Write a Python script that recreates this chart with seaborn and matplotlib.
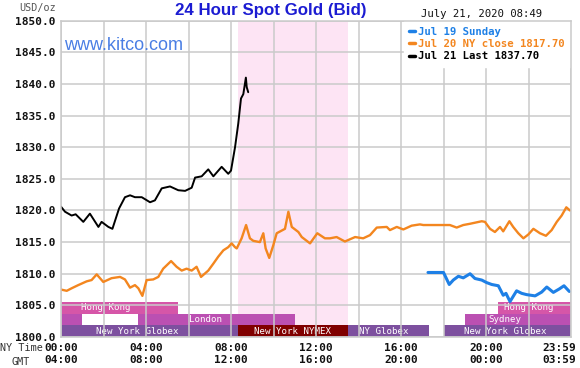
import matplotlib
matplotlib.use("Agg")
import matplotlib.pyplot as plt
import matplotlib.transforms as mtransforms
from matplotlib.lines import Line2D
import seaborn as sns

# hours (NY time) and prices
jul21_hours = [0.0, 0.19, 0.5, 0.69, 1.05, 1.36, 1.76, 1.91, 2.23, 2.42, 2.73, 3.01,
               3.25, 3.48, 3.8, 4.19, 4.42, 4.74, 5.13, 5.52, 5.84, 6.15, 6.31, 6.62,
               6.93, 7.17, 7.56, 7.87, 8.0, 8.19, 8.34, 8.47, 8.58, 8.7, 8.74, 8.81]
jul21_price = [1820.6, 1819.8, 1819.2, 1819.4, 1818.2, 1819.5, 1817.4, 1818.2, 1817.4,
               1817.1, 1820.3, 1822.1, 1822.4, 1822.1, 1822.1, 1821.3, 1821.6, 1823.5,
               1823.8, 1823.2, 1823.1, 1823.6, 1825.2, 1825.4, 1826.5, 1825.4, 1826.9,
               1825.8, 1826.3, 1830.0, 1833.7, 1837.7, 1838.4, 1841.0, 1839.5, 1838.7]

jul20_hours = [0.0, 0.27, 0.5, 0.81, 1.21, 1.44, 1.68, 1.99, 2.38, 2.78, 3.01, 3.25,
               3.48, 3.64, 3.83, 4.03, 4.34, 4.58, 4.81, 5.18, 5.44, 5.68, 5.91, 6.15,
               6.38, 6.59, 6.93, 7.17, 7.4, 7.64, 7.87, 8.03, 8.19, 8.27, 8.5, 8.71,
               8.89, 9.05, 9.36, 9.52, 9.63, 9.8, 9.99, 10.15, 10.54, 10.7, 10.86, 11.17,
               11.33, 11.72, 12.06, 12.42, 12.66, 12.97, 13.36, 13.84, 14.22, 14.54,
               14.86, 15.33, 15.48, 15.8, 16.11, 16.5, 16.89, 17.05, 18.0, 18.3, 18.62,
               18.93, 19.25, 19.8, 19.95, 20.19, 20.42, 20.66, 20.81, 21.1, 21.28, 21.52,
               21.76, 21.99, 22.23, 22.54, 22.82, 23.09, 23.33, 23.56, 23.78, 23.95]
jul20_price = [1807.5, 1807.3, 1807.7, 1808.2, 1808.8, 1809.0, 1809.9, 1808.7, 1809.3,
               1809.5, 1809.1, 1807.8, 1808.2, 1807.7, 1806.5, 1809.0, 1809.1, 1809.5,
               1810.8, 1812.0, 1811.1, 1810.5, 1810.8, 1810.5, 1811.1, 1809.5, 1810.5,
               1811.6, 1812.7, 1813.7, 1814.2, 1814.8, 1814.2, 1814.0, 1815.6, 1817.7,
               1815.6, 1815.2, 1815.0, 1816.4, 1814.0, 1812.5, 1814.5, 1816.4, 1817.1,
               1819.8, 1817.4, 1816.6, 1815.8, 1814.8, 1816.4, 1815.6, 1815.6, 1815.8,
               1815.1, 1815.8, 1815.6, 1816.1, 1817.3, 1817.4, 1816.9, 1817.4, 1817.0,
               1817.6, 1817.8, 1817.7, 1817.7, 1817.7, 1817.3, 1817.7, 1817.9, 1818.3,
               1818.2, 1817.1, 1816.6, 1817.4, 1816.7, 1818.3, 1817.4, 1816.4, 1815.6,
               1816.2, 1817.1, 1816.4, 1816.0, 1816.9, 1818.2, 1819.2, 1820.5, 1820.0]

jul19_hours = [17.27, 18.0, 18.27, 18.46, 18.7, 18.93, 19.25, 19.48, 19.8, 20.03, 20.27,
               20.58, 20.81, 20.94, 21.13, 21.44, 21.68, 21.91, 22.31, 22.62, 22.86,
               23.17, 23.45, 23.67, 23.92]
jul19_price = [1810.2, 1810.2, 1808.3, 1809.0, 1809.6, 1809.35, 1810.0, 1809.25, 1809.0,
               1808.6, 1808.3, 1808.1, 1806.6, 1806.9, 1805.6, 1807.3, 1806.9, 1806.7,
               1806.5, 1807.1, 1807.9, 1807.05, 1807.6, 1808.1, 1807.2]

# trading sessions at the bottom of the chart (row 0 = bottom)
session_names = ["New York Globex", "New York NYMEX", "NY Globex", "New York Globex",
                 "", "London", "Sydney", "", "Hong Kong", "Hong Kong"]
session_start = [0.0, 8.33, 13.5, 18.0, 0.0, 3.6, 19.0, 1.0, 0.0, 20.55]
session_end = [8.33, 13.5, 17.33, 24.0, 1.0, 11.0, 24.0, 3.6, 5.5, 24.0]
session_row = [0, 0, 0, 0, 1, 1, 1, 1, 2, 2]
session_label_x = [3.6, 10.9, 15.2, 20.9, 0.5, 6.8, 20.9, 2.3, 2.1, 22.0]
session_colors = ["#7d509f", "#800000", "#7d509f", "#7d509f", "#bb50b2", "#bb50b2",
                  "#bb50b2", "#ffffff", "#d656a8", "#d656a8"]

comex_open, comex_close = 8.33, 13.5

tick_hours = [0, 2, 4, 6, 8, 10, 12, 14, 16, 18, 20, 22, 24]
tick_labels = ["00:00\n04:00", "", "04:00\n08:00", "", "08:00\n12:00", "",
               "12:00\n16:00", "", "16:00\n20:00", "", "20:00\n00:00", "",
               "23:59\n03:59"]

sns.set_style("whitegrid", {"grid.color": "#cacaca", "axes.edgecolor": "#cacaca"})
plt.rcParams["font.family"] = ["DejaVu Sans Mono", "DejaVu Sans"]

fig = plt.figure(figsize=(5.8, 3.68), dpi=100)
ax = fig.add_axes([61 / 580, 1 - 337 / 368, 510 / 580, 316.3 / 368])

ax.axvspan(comex_open, comex_close, color="#fde4f4", zorder=0.1, lw=0)

row_h = 1.85
for name, s, e, r, lx, c in zip(session_names, session_start, session_end,
                                 session_row, session_label_x, session_colors):
    ax.barh(1800 + row_h * (r + 0.5), e - s, left=s, height=row_h, color=c,
            zorder=0.3, linewidth=0)
    if name:
        ax.text(lx, 1800 + row_h * (r + 0.5), name, color="white", fontsize=6.6,
                ha="center", va="center", zorder=0.4)

sns.lineplot(x=jul19_hours, y=jul19_price, color="#1e80e6", linewidth=2.2,
             estimator=None, ax=ax, zorder=3)
sns.lineplot(x=jul20_hours, y=jul20_price, color="#f3861f", linewidth=1.7,
             estimator=None, ax=ax, zorder=3)
sns.lineplot(x=jul21_hours, y=jul21_price, color="black", linewidth=1.4,
             estimator=None, ax=ax, zorder=4)

ax.set_xlim(0, 24)
ax.set_ylim(1800, 1850)
ax.set_xticks(tick_hours)
ax.set_xticklabels(tick_labels)
ax.set_yticks(range(1800, 1851, 5))
ax.set_yticklabels([f"{v:.1f}" for v in range(1800, 1851, 5)])
ax.grid(True, color="#cacaca", linewidth=1.1)
ax.set_axisbelow(True)
ax.tick_params(length=0, labelsize=8, pad=4)
for lab in ax.get_xticklabels() + ax.get_yticklabels():
    lab.set_fontweight("bold")
    lab.set_color("#111111")
for lab in ax.get_xticklabels():
    lab.set_linespacing(1.3)
last = ax.get_xticklabels()[-1]
last.set_transform(last.get_transform() +
                   mtransforms.ScaledTranslation(-0.12, 0, fig.dpi_scale_trans))
for sp in ax.spines.values():
    sp.set_color("#cacaca")
    sp.set_linewidth(1.1)
    sp.set_zorder(6)
ax.set_xlabel("")
ax.set_ylabel("")

handles = [Line2D([], [], color="#1e80e6", lw=2.5),
           Line2D([], [], color="#f3861f", lw=2.5),
           Line2D([], [], color="black", lw=2.5)]
labels = ["Jul 19 Sunday", "Jul 20 NY close 1817.70", "Jul 21 Last 1837.70"]
leg = ax.legend(handles, labels, loc="upper right", bbox_to_anchor=(1, 1),
                borderaxespad=0, frameon=True, fancybox=False, framealpha=1,
                facecolor="white", edgecolor="white", handlelength=0.55,
                handletextpad=0.3, labelspacing=0.22, borderpad=0.55,
                prop={"family": "DejaVu Sans Mono", "weight": "bold", "size": 7.7},
                labelcolor=["#1e80e6", "#f3861f", "black"])
leg.set_zorder(5)

fig.text(271 / 580, 1 - 10 / 368, "24 Hour Spot Gold (Bid)", ha="center", va="center",
         family="Liberation Sans", fontweight="bold", fontsize=12.2, color="#1c1cd2")
fig.text(124 / 580, 1 - 46 / 368, "www.kitco.com", ha="center", va="center",
         family="Liberation Sans", fontsize=13, color="#4a7ee4", zorder=5)
fig.text(38 / 580, 1 - 8 / 368, "USD/oz", ha="center", va="center",
         fontsize=7.3, color="#555555")
fig.text(482 / 580, 1 - 14 / 368, "July 21, 2020 08:49", ha="center", va="center",
         fontsize=7.7, color="#111111")
fig.text(21 / 580, 1 - 355 / 368, "NY Time\nGMT", ha="center", va="center",
         fontsize=7.3, color="#333333", linespacing=1.45)

fig.savefig("out.png", dpi=100)
